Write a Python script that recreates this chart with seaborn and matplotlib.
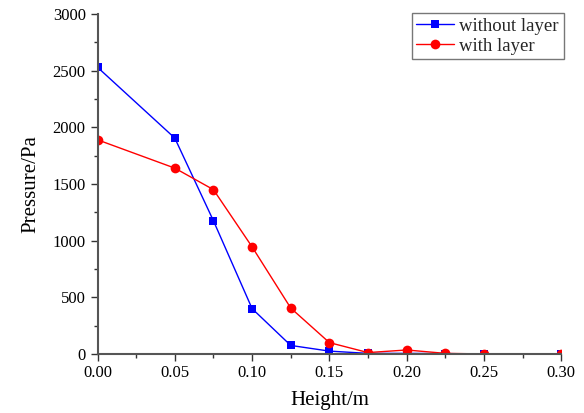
import matplotlib
matplotlib.use("Agg")
import matplotlib.pyplot as plt
import seaborn as sns
import pandas as pd
from matplotlib.ticker import MultipleLocator, FormatStrFormatter

# Measured pressure along the height
height = [0.0, 0.05, 0.075, 0.10, 0.125, 0.15, 0.175, 0.20, 0.225, 0.25, 0.30]
without_layer = [2530, 1905, 1175, 400, 75, 25, 5, 5, 3, 0, 0]
with_layer = [1890, 1640, 1450, 945, 405, 100, 12, 35, 5, 0, 0]

sns.set_theme(style="ticks")
plt.rcParams["font.family"] = ["Liberation Serif", "DejaVu Serif"]

df_without = pd.DataFrame({"Height": height, "Pressure": without_layer})
df_with = pd.DataFrame({"Height": height, "Pressure": with_layer})

fig = plt.figure(figsize=(5.84, 4.13), dpi=100)
ax = fig.add_axes([0.167, 0.143, 0.794, 0.823])

sns.lineplot(data=df_without, x="Height", y="Pressure", ax=ax, color="#0000ff",
             marker="s", markersize=6, markeredgewidth=0, linewidth=1,
             label="without layer")
sns.lineplot(data=df_with, x="Height", y="Pressure", ax=ax, color="#ff0000",
             marker="o", markersize=7, markeredgewidth=0, linewidth=1,
             label="with layer")

ax.set_xlim(0, 0.30)
ax.set_ylim(0, 3000)
ax.xaxis.set_major_locator(MultipleLocator(0.05))
ax.xaxis.set_minor_locator(MultipleLocator(0.025))
ax.yaxis.set_major_locator(MultipleLocator(500))
ax.yaxis.set_minor_locator(MultipleLocator(250))
ax.xaxis.set_major_formatter(FormatStrFormatter("%.2f"))

for side in ("top", "right"):
    ax.spines[side].set_visible(False)
for side in ("left", "bottom"):
    ax.spines[side].set_color("#555555")
    ax.spines[side].set_linewidth(1.5)

ax.tick_params(axis="both", which="major", direction="out", length=5,
               width=1, color="#333333", labelsize=12, labelcolor="black")
ax.tick_params(axis="x", which="major", pad=3)
ax.tick_params(axis="both", which="minor", direction="out", length=3,
               width=1, color="#333333")

ax.set_xlabel("Height/m", fontsize=15, color="black", labelpad=7)
ax.set_ylabel("Pressure/Pa", fontsize=15, color="black", labelpad=9)

leg = ax.legend(loc="upper right", bbox_to_anchor=(1.005, 1.003), fontsize=13.5,
                frameon=True, fancybox=False, borderpad=0.25,
                handlelength=2.0, handletextpad=0.3, labelspacing=0.15,
                borderaxespad=0)
leg.get_frame().set_edgecolor("#555555")
leg.get_frame().set_linewidth(1)

fig.savefig("out.png", dpi=100)
